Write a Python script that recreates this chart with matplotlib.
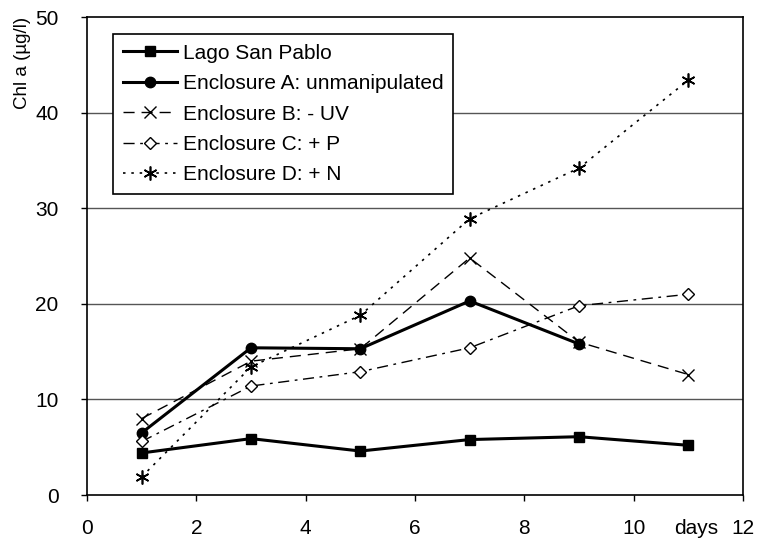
import matplotlib
matplotlib.use("Agg")
import matplotlib.pyplot as plt

plt.rcParams['font.family'] = ['Liberation Sans', 'DejaVu Sans']

days = [1, 3, 5, 7, 9, 11]
lago = [4.4, 5.9, 4.6, 5.8, 6.1, 5.2]
encl_a = [6.5, 15.4, 15.3, 20.3, 15.8]
encl_b = [8.0, 14.0, 15.3, 24.8, 16.0, 12.6]
encl_c = [5.6, 11.4, 12.9, 15.4, 19.8, 21.0]
encl_d = [1.9, 13.4, 18.8, 28.9, 34.2, 43.4]

fig = plt.figure(figsize=(7.58, 5.4), dpi=100)
ax = fig.add_axes([0.1148, 0.0833, 0.8654, 0.8852])

ax.plot(days, lago, '-', color='black', lw=2.2, marker='s', ms=7.5,
        label='Lago San Pablo')
ax.plot(days[:len(encl_a)], encl_a, '-', color='black', lw=2.2, marker='o',
        ms=7.5, label='Enclosure A: unmanipulated')
ax.plot(days, encl_b, color='black', lw=1, dashes=(8, 5), marker='x', ms=9,
        mew=1, label='Enclosure B: - UV')
ax.plot(days, encl_c, color='black', lw=1, dashes=(8, 4, 2, 4), marker='D',
        ms=6, mfc='white', mew=1, label='Enclosure C: + P')
ax.plot(days, encl_d, color='black', lw=1.2, dashes=(1.5, 3.5),
        marker=(6, 2, 0), ms=10, mew=1.2, label='Enclosure D: + N')

ax.set_xlim(0, 12)
ax.set_ylim(0, 50)
ax.set_xticks(range(0, 13, 2))
ax.set_yticks(range(0, 51, 10))
for y in range(10, 50, 10):
    ax.axhline(y, color='#555555', lw=1, zorder=0)

for s in ax.spines.values():
    s.set_color('black')
    s.set_linewidth(1.2)

ax.tick_params(axis='both', direction='out', length=4.5, width=1, labelsize=15)
ax.tick_params(axis='x', pad=13)
ax.tick_params(axis='y', pad=16)
# "days" sits in the row of x tick labels
ax.annotate('days', xy=(11.15, 0), xycoords=('data', 'axes fraction'),
            xytext=(0, -17.5), textcoords='offset points',
            ha='center', va='top', fontsize=15)
ax.set_ylabel('Chl a (µg/l)', loc='top', fontsize=13.5, labelpad=3)

leg = ax.legend(loc='upper left', bbox_to_anchor=(0.04, 0.964), fontsize=15,
                frameon=True, fancybox=False, framealpha=1, handlelength=2.6,
                handletextpad=0.3, borderpad=0.45, labelspacing=0.55,
                borderaxespad=0)
leg.get_frame().set_edgecolor('black')
leg.get_frame().set_linewidth(1.2)

fig.savefig('out.png', dpi=100)
